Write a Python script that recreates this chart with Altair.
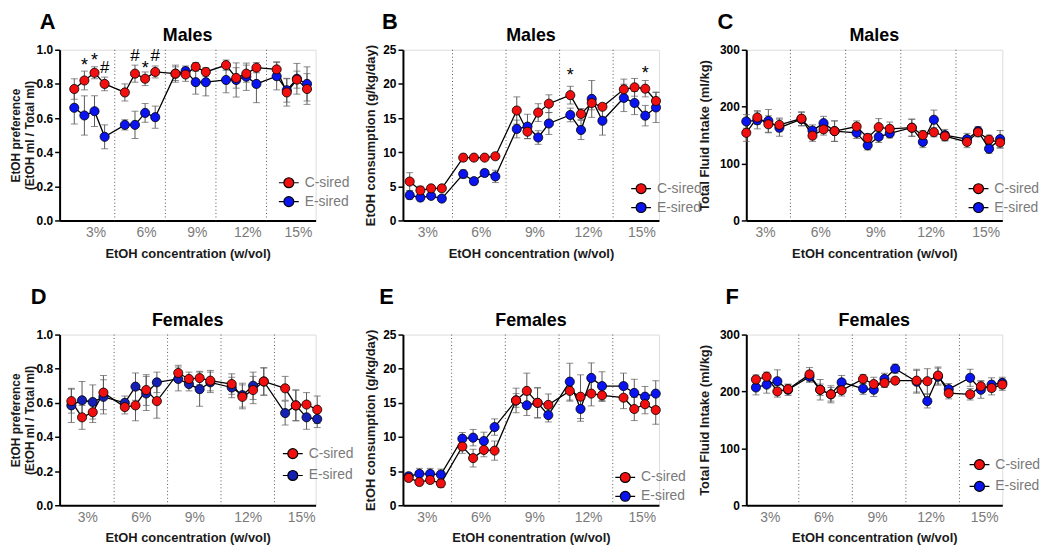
import json
import altair as alt
import pandas as pd

# ---------------- data ----------------
CONC_LABELS = ["3%", "6%", "9%", "12%", "15%"]
GROUPS = ["C-sired", "E-sired"]
DIVIDERS = [5, 10, 15, 20]

# A: Males, EtOH preference
A_C_MEAN = [0.77, 0.82, 0.865, 0.80, 0.75, 0.86, 0.83, 0.87, 0.86, 0.855, 0.90, 0.87,
            0.91, 0.835, 0.86, 0.895, 0.885, 0.75, 0.825, 0.77]
A_C_SEM = [0.06, 0.055, 0.035, 0.04, 0.05, 0.05, 0.04, 0.035, 0.04, 0.04, 0.025, 0.025,
           0.03, 0.06, 0.05, 0.03, 0.045, 0.08, 0.05, 0.09]
A_E_MEAN = [0.66, 0.615, 0.64, 0.49, 0.56, 0.56, 0.63, 0.605, 0.86, 0.875, 0.81, 0.81,
            0.823, 0.823, 0.842, 0.80, 0.845, 0.763, 0.83, 0.80]
A_E_SEM = [0.095, 0.115, 0.09, 0.07, 0.03, 0.08, 0.055, 0.065, 0.05, 0.03, 0.07, 0.08,
           0.075, 0.1, 0.08, 0.11, 0.08, 0.07, 0.09, 0.1]
A_ANN_POINT = [1, 2, 3, 5, 6, 7]
A_ANN_TEXT = ["*", "*", "#", "#", "*", "#"]
A_ANN_Y = [0.927, 0.958, 0.894, 0.962, 0.913, 0.962]

# B: Males, EtOH consumption
B_C_MEAN = [5.7, 4.4, 4.7, 4.7, 9.2, 9.2, 9.2, 9.4, 16.1, 13.0, 15.8, 17.1,
            18.35, 15.6, 17.2, 16.65, 19.2, 19.5, 19.3, 17.5]
B_C_SEM = [1.3, 0.6, 0.4, 0.4, 0.5, 0.3, 0.3, 0.4, 2.0, 1.0, 1.3, 1.3,
           1.3, 0.8, 1.0, 0.3, 1.5, 1.3, 1.2, 1.3]
B_E_MEAN = [3.7, 3.35, 3.6, 3.2, 6.8, 5.75, 6.95, 6.45, 13.4, 13.75, 12.15, 14.2,
            15.45, 13.25, 17.8, 14.6, 17.95, 17.2, 15.35, 16.55]
B_E_SEM = [0.6, 0.5, 0.4, 0.4, 0.6, 0.5, 0.5, 0.9, 1.3, 1.8, 1.0, 1.6,
           1.0, 1.4, 2.7, 2.1, 2.0, 1.7, 1.5, 2.2]
B_ANN_POINT = [12, 18]
B_ANN_TEXT = ["*", "*"]
B_ANN_Y = [21.7, 22.0]

# C: Males, total fluid intake
C_C_MEAN = [154, 181, 169, 168, 179, 149, 160, 157, 165, 145, 164, 161,
            163, 150, 155, 148, 138, 155, 142, 137]
C_C_SEM = [15, 12, 15, 12, 12, 10, 10, 18, 10, 8, 15, 12, 15, 8, 8, 8, 10, 8, 8, 10]
C_E_MEAN = [174, 176, 175, 163, 178, 158, 171, 157, 154, 132, 147, 153,
            163, 138, 177, 150, 143, 157, 126, 143]
C_E_SEM = [12, 15, 20, 15, 12, 10, 12, 18, 10, 8, 10, 8, 15, 10, 17, 10, 10, 8, 8, 15]

# D: Females, EtOH preference
D_C_MEAN = [0.61, 0.515, 0.545, 0.66, 0.575, 0.585, 0.675, 0.61, 0.775, 0.74, 0.745, 0.73,
            0.71, 0.635, 0.675, 0.725, 0.685, 0.585, 0.59, 0.56]
D_C_SEM = [0.07, 0.07, 0.06, 0.1, 0.04, 0.09, 0.09, 0.1, 0.045, 0.04, 0.04, 0.06,
           0.06, 0.07, 0.08, 0.08, 0.07, 0.09, 0.07, 0.08]
D_E_MEAN = [0.585, 0.615, 0.605, 0.635, 0.60, 0.695, 0.655, 0.72, 0.74, 0.71, 0.68, 0.72,
            0.69, 0.645, 0.70, 0.725, 0.54, 0.585, 0.515, 0.505]
D_E_SEM = [0.1, 0.11, 0.1, 0.1, 0.04, 0.08, 0.1, 0.06, 0.07, 0.04, 0.1, 0.06,
           0.06, 0.07, 0.08, 0.08, 0.07, 0.09, 0.07, 0.05]

# E: Females, EtOH consumption
E_C_MEAN = [4.0, 3.4, 3.7, 3.2, 8.6, 6.9, 8.1, 8.0, 15.35, 16.75, 15.0, 14.7,
            16.75, 15.9, 16.35, 16.1, 15.75, 14.1, 14.8, 13.95]
E_C_SEM = [0.3, 0.4, 0.5, 0.6, 1.0, 1.3, 1.0, 1.4, 1.0, 2.6, 2.2, 1.6,
           1.5, 3.2, 1.8, 0.9, 1.6, 1.7, 1.4, 2.1]
E_E_MEAN = [4.25, 4.6, 4.6, 4.5, 9.75, 9.9, 9.4, 11.45, 15.35, 14.65, 15.0, 13.2,
            18.1, 14.1, 18.65, 17.45, 17.45, 16.45, 15.9, 16.35]
E_E_SEM = [0.5, 0.8, 0.8, 0.8, 0.9, 1.2, 1.3, 1.2, 1.8, 1.5, 2.2, 1.0,
           2.7, 1.8, 2.2, 2.1, 1.9, 2.0, 1.5, 1.9]

# F: Females, total fluid intake
F_C_MEAN = [221, 226, 200, 204, 230, 203, 195, 202, 222, 213, 215, 219,
            219, 218, 228, 197, 195, 209, 206, 212]
F_C_SEM = [8, 8, 10, 8, 12, 18, 15, 10, 8, 12, 8, 5, 20, 22, 15, 10, 10, 10, 12, 10]
F_E_MEAN = [207, 212, 218, 203, 226, 203, 195, 216, 205, 203, 222, 240,
            217, 183, 226, 204, 224, 203, 212, 215]
F_E_SEM = [13, 15, 20, 10, 10, 10, 12, 12, 10, 12, 10, 8, 20, 12, 15, 10, 15, 15, 12, 10]

PREF_TITLE = ["EtOH preference", "(EtOH ml / Total ml)"]
CONS_TITLE = "EtOH consumption (g/kg/day)"
FLUID_TITLE = "Total Fluid Intake (ml/kg)"

# ---------------- styling ----------------
FONT = "Liberation Sans"
RED = "#f20f0f"
BLUE = "#0a14f0"
NAVY = "#1420b4"
W, H = 258, 172
SYMBOL = "M-1,0L-0.5,0M0.5,0L1,0M-0.5,0A0.5,0.5,0,1,0,0.5,0A0.5,0.5,0,1,0,-0.5,0Z"

PANELS = [
    dict(letter="A", title="Males", c=(A_C_MEAN, A_C_SEM), e=(A_E_MEAN, A_E_SEM),
         ymax=1.0, yticks=[0, 0.2, 0.4, 0.6, 0.8, 1.0], yfmt=".1f", ytitle=PREF_TITLE,
         ytpad=0, ytfs=12, xtitle="EtOH concentration (w/vol)", xdom=[-0.45, 24.85],
         loff=0.6, leg=(230, 133, 19), let=(-20, -21), ecol=BLUE,
         ann=(A_ANN_POINT, A_ANN_TEXT, A_ANN_Y)),
    dict(letter="B", title="Males", c=(B_C_MEAN, B_C_SEM), e=(B_E_MEAN, B_E_SEM),
         ymax=25, yticks=[0, 5, 10, 15, 20, 25], yfmt="d", ytitle=CONS_TITLE,
         ytpad=5, ytfs=13, xtitle="EtOH concentration (w/vol)", xdom=[0.37, 24.28],
         loff=0.15, leg=(239, 139, 15), let=(-21, -21), ecol=BLUE,
         ann=(B_ANN_POINT, B_ANN_TEXT, B_ANN_Y)),
    dict(letter="C", title="Males", c=(C_C_MEAN, C_C_SEM), e=(C_E_MEAN, C_E_SEM),
         ymax=300, yticks=[0, 100, 200, 300], yfmt="d", ytitle=FLUID_TITLE,
         ytpad=8, ytfs=13, xtitle="EtOH concentration (w/vol)", xdom=[1.0, 24.2],
         loff=0.2, leg=(233, 139, 16), let=(-29, -21), ecol=BLUE, ann=None),
    dict(letter="D", title="Females", c=(D_C_MEAN, D_C_SEM), e=(D_E_MEAN, D_E_SEM),
         ymax=1.0, yticks=[0, 0.2, 0.4, 0.6, 0.8, 1.0], yfmt=".1f", ytitle=PREF_TITLE,
         ytpad=0, ytfs=12, xtitle="EtOH concentration (w/vol)", xdom=[-0.1, 23.85],
         loff=0.0, leg=(234, 119, 23), let=(-29, -31), ecol=NAVY, ann=None),
    dict(letter="E", title="Females", c=(E_C_MEAN, E_C_SEM), e=(E_E_MEAN, E_E_SEM),
         ymax=25, yticks=[0, 5, 10, 15, 20, 25], yfmt="d", ytitle=CONS_TITLE,
         ytpad=5, ytfs=13, xtitle="EtOH conentration (w/vol)", xdom=[0.47, 24.3],
         loff=0.2, leg=(223, 143, 18), let=(-24, -31), ecol=BLUE, ann=None),
    dict(letter="F", title="Females", c=(F_C_MEAN, F_C_SEM), e=(F_E_MEAN, F_E_SEM),
         ymax=300, yticks=[0, 100, 200, 300], yfmt="d", ytitle=FLUID_TITLE,
         ytpad=8, ytfs=13, xtitle="EtOH concentration (w/vol)", xdom=[0.1, 24.0],
         loff=-0.2, leg=(234, 130, 23), let=(-21, -31), ecol=BLUE, ann=None),
]


def pos(i):
    # 4 weekly points per concentration, one empty slot between concentrations
    return 5 * (i // 4) + (i % 4) + 1


def frame(p):
    rows = []
    for grp, (mean, sem) in ((GROUPS[1], p["e"]), (GROUPS[0], p["c"])):
        for i, (m, s) in enumerate(zip(mean, sem)):
            rows.append({"x": pos(i), "group": grp, "mean": m, "lo": m - s, "hi": m + s})
    return pd.DataFrame(rows)


def xenc(p):
    off = 2.5 + p["loff"]
    expr = f"{json.dumps(CONC_LABELS)}[round((datum.value - {off}) / 5)]"
    return alt.X("x:Q", scale=alt.Scale(domain=p["xdom"], nice=False, zero=False),
                 axis=alt.Axis(values=[5 * g + off for g in range(len(CONC_LABELS))],
                               labelExpr=expr, title=p["xtitle"]))


def yenc(field, p):
    return alt.Y(f"{field}:Q", scale=alt.Scale(domain=[0, p["ymax"]], nice=False, zero=True),
                 axis=alt.Axis(values=p["yticks"], format=p["yfmt"], title=p["ytitle"],
                               titlePadding=p["ytpad"], titleFontSize=p["ytfs"],
                               titleLineHeight=p["ytfs"] + 2))


def panel(p):
    df = frame(p)
    x = xenc(p)
    base = alt.Chart(df)
    divs = alt.Chart(pd.DataFrame({"x": DIVIDERS})).mark_rule(
        strokeDash=[1, 2.5], color="#555555", strokeWidth=1).encode(x=x)
    err = base.mark_errorbar(ticks=True, size=7, thickness=1, color="#5a5a5a").encode(
        x=x, y=yenc("lo", p), y2=alt.Y2("hi:Q"), detail="group:N")
    line = base.mark_line(color="black", strokeWidth=1.3).encode(
        x=x, y=yenc("mean", p), detail="group:N")
    lx, ly, gap = p["leg"]
    pts = base.mark_circle(size=85, stroke="black", strokeWidth=0.8, opacity=1).encode(
        x=x, y=yenc("mean", p),
        fill=alt.Fill("group:N",
                      scale=alt.Scale(domain=GROUPS, range=[RED, p["ecol"]]),
                      legend=alt.Legend(title=None, orient="none", legendX=lx - 10,
                                        legendY=ly - 10, symbolType=SYMBOL, symbolSize=400,
                                        symbolStrokeColor="black", symbolStrokeWidth=1.2,
                                        symbolOpacity=1, labelFontSize=14,
                                        labelColor="#7a7a7a", labelFont=FONT,
                                        labelOffset=5, rowPadding=gap - 20, padding=0)))
    heads = pd.DataFrame({"t": [p["letter"], p["title"]], "kind": ["letter", "title"]})
    hb = alt.Chart(heads)
    letter = hb.transform_filter(alt.datum.kind == "letter").mark_text(
        fontSize=22, fontWeight="bold", align="left", baseline="alphabetic",
        color="black", font=FONT).encode(
        text="t:N", x=alt.value(p["let"][0]), y=alt.value(p["let"][1]))
    title = hb.transform_filter(alt.datum.kind == "title").mark_text(
        fontSize=18, fontWeight="bold", align="center", baseline="alphabetic",
        color="black", font=FONT).encode(
        text="t:N", x=alt.value(W / 2), y=alt.value(-9))
    layers = [divs, err, line, pts, letter, title]
    if p["ann"]:
        ip, txt, yy = p["ann"]
        adf = pd.DataFrame({"x": [pos(i) for i in ip], "t": txt, "y": yy})
        a = alt.Chart(adf)
        layers.append(a.transform_filter(alt.datum.t == "*").mark_text(
            fontSize=18, baseline="middle", dy=4, color="black", font=FONT).encode(
            x=x, y=yenc("y", p), text="t:N"))
        layers.append(a.transform_filter(alt.datum.t == "#").mark_text(
            fontSize=17, baseline="middle", dy=0, color="black", font=FONT).encode(
            x=x, y=yenc("y", p), text="t:N"))
    return alt.layer(*layers).properties(width=W, height=H)


chart = alt.concat(*[panel(p) for p in PANELS], columns=3,
                   spacing={"row": 115, "column": 88}, bounds="flush",
                   padding={"left": 0, "top": 0, "right": 0, "bottom": 0}
                   ).resolve_scale(x="independent", y="independent", fill="independent"
                   ).configure_view(stroke=None).configure(font=FONT, background="white"
                   ).configure_axisY(domainColor="black", domainWidth=2, tickColor="black",
                                     tickWidth=1.5, tickSize=5, labelFontSize=12,
                                     labelFontWeight="bold", labelColor="black",
                                     labelPadding=2, titleFontWeight="bold",
                                     titleColor="#1a1a1a", grid=False,
                                     labelFont=FONT, titleFont=FONT
                   ).configure_axisX(domainColor="black", domainWidth=2, ticks=False,
                                     tickSize=0, labelFontSize=14, labelColor="#7a7a7a",
                                     labelFontWeight="normal", labelPadding=5,
                                     titleFontSize=13, titleFontWeight="bold",
                                     titleColor="#1a1a1a", titlePadding=8, grid=False,
                                     labelFlush=False, labelFont=FONT, titleFont=FONT)

chart.save("out.html", embed_options={"renderer": "svg", "actions": False})
